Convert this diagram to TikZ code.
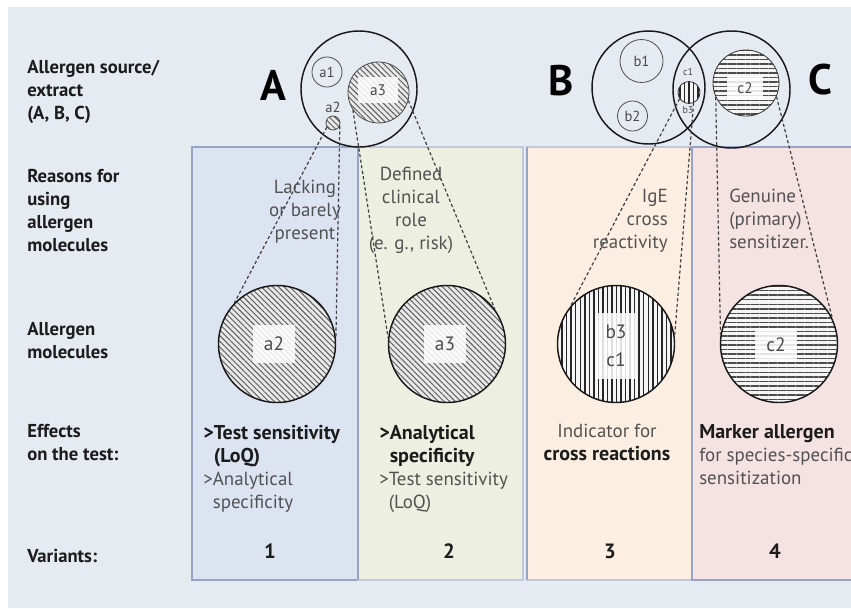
\documentclass[tikz,border=0pt]{standalone}
\usepackage{fontspec}
\setmainfont{PT Sans}
\usetikzlibrary{patterns.meta}
\definecolor{bgc}{HTML}{E6EBF1}
\definecolor{pone}{HTML}{DCE3F1}
\definecolor{ptwo}{HTML}{EDF0E1}
\definecolor{pthree}{HTML}{FCEEE1}
\definecolor{pfour}{HTML}{F5E2E2}
\definecolor{pbord}{HTML}{95A3C4}
\definecolor{txtg}{HTML}{4A4A4A}
\definecolor{txtd}{HTML}{1C1C1C}
\newcommand{\effb}[1]{{\fontsize{15}{17.25}\selectfont\bfseries\color{txtd}#1}}
\begin{document}
\begin{tikzpicture}[x=0.75pt,y=-0.75pt,
  every node/.style={inner sep=0pt},
  srcbig/.style={circle,draw=black!90,line width=1.1pt},
  subc/.style={circle,draw=black!70,line width=0.6pt,text=txtg,font=\fontsize{11}{12}\selectfont},
  hatch/.style={preaction={fill=gray!18},pattern={Lines[angle=-45,distance=3pt,line width=0.7pt]},pattern color=black!65},
  vstripe/.style={preaction={fill=white!92!gray},pattern={Lines[angle=90,distance=3.4pt,line width=1.1pt]},pattern color=black!85},
  hstripe/.style={preaction={fill=white!92!gray},pattern={Lines[angle=0,distance=3.4pt,line width=1.1pt]},pattern color=black!70},
  mol/.style={circle,draw=black!90,line width=1.1pt,minimum size=87.75pt},
  lbox/.style={fill=white,fill opacity=0.85,text opacity=1,text=txtg,font=\fontsize{11.5}{12}\selectfont},
  lboxbig/.style={fill=white,fill opacity=0.85,text opacity=1,text=txtg,font=\fontsize{14.5}{21}\selectfont,align=center},
  tinylab/.style={text=txtg,font=\fontsize{7.5}{8}\selectfont},
  dl/.style={draw=black!75,line width=0.9pt,dash pattern=on 2.4pt off 1.8pt},
  lab/.style={font=\fontsize{14}{17.25}\selectfont\bfseries,text=txtd,align=left,anchor=north west},
  rea/.style={font=\fontsize{14.2}{17.25}\selectfont,text=black!68,anchor=north},
  eff/.style={font=\fontsize{14.2}{17.25}\selectfont,text=black!68,align=left,anchor=north west},
  num/.style={font=\fontsize{15.5}{16}\selectfont\bfseries,text=txtd},
  bigl/.style={font=\fontsize{32}{32}\selectfont\bfseries,text=black}
]
\useasboundingbox (0,0) rectangle (851,608);
\fill[white] (0,0) rectangle (851,608);
\fill[bgc] (8,7) rectangle (851,608);

% panels
\filldraw[fill=pone,draw=pbord,line width=0.8pt] (192,147) rectangle (358,580);
\filldraw[fill=ptwo,draw=pbord!60,line width=0.8pt] (358,147) rectangle (523,580);
\filldraw[fill=pthree,draw=pbord!60,line width=0.8pt] (527,147) rectangle (692,580);
\filldraw[fill=pfour,draw=pbord,line width=0.8pt] (692,147) rectangle (860,580);
\draw[pbord,line width=1.2pt] (358,147) -- (358,580);
\draw[pbord,line width=1.2pt] (692,147) -- (692,580);
\draw[pbord,line width=1.2pt] (527,147) -- (527,580);

% left labels
\node[lab] (l1) at (27,60) {Allergen source/\\extract\\(A, B, C)};
\node[lab] (l2) at (27,169) {Reasons for\\using\\allergen\\molecules};
\node[lab] (l3) at (27,322) {Allergen\\molecules};
\node[lab] (l4) at (27,424) {Effects\\on the test:};
\node[lab] (l5) at (27,549) {Variants:};

% big letters
\node[bigl] (LA) at (273,85) {A};
\node[bigl] (LB) at (561,81) {B};
\node[bigl] (LC) at (820,80) {C};

% source A
\node[srcbig,minimum size=87pt] (Asrc) at (359,89) {};
\node[subc,minimum size=22.5pt] (a1) at (327,72) {a1};
\node[circle,hatch,draw=black!70,line width=0.6pt,minimum size=45.75pt] (a3s) at (378.5,92.5) {};
\node[lbox,minimum width=30pt,minimum height=19pt] (a3sl) at (378,90) {a3};
\node[tinylab,font=\fontsize{11}{12}\selectfont] (a2sl) at (333,107) {a2};
\node[circle,hatch,draw=black!70,line width=0.6pt,minimum size=10.5pt] (a2s) at (333,123) {};

% sources B and C
\node[srcbig,minimum size=84.75pt] (Bsrc) at (648.5,87.5) {};
\node[srcbig,minimum size=87.75pt] (Csrc) at (731.5,89.5) {};
\node[subc,minimum size=32.25pt] (b1) at (641.5,61) {b1};
\node[subc,minimum size=22.5pt] (b2) at (632.5,116) {b2};
\node[circle,vstripe,draw=black!80,line width=0.6pt,minimum size=16.5pt] (bcs) at (689,92.5) {};
\node[tinylab] (c1l) at (688,72) {c1};
\node[tinylab] (b3l) at (688,110) {b3};
\node[circle,hstripe,draw=black!80,line width=0.6pt,minimum size=49.5pt] (c2s) at (746,83) {};
\node[lbox,minimum width=27pt,minimum height=18pt] (c2sl) at (745,88) {c2};

% reasons
\node[rea,align=center] (r1) at (305,180) {Lacking\\or barely\\present};
\node[rea,align=center] (r2) at (411,167) {Defined\\clinical\\role\\(e. g., risk)};
\node[rea,align=right,anchor=north east] (r3) at (668,189) {IgE\\cross\\reactivity};
\node[rea,align=left,anchor=north west] (r4) at (729,189) {Genuine\\(primary)\\sensitizer.};

% molecules
\node[mol,hatch] (a2m) at (277,344) {};
\node[lboxbig,minimum width=32pt,minimum height=28pt] (a2ml) at (274,344) {a2};
\node[mol,hatch] (a3m) at (447,344) {};
\node[lboxbig,minimum width=32pt,minimum height=28pt] (a3ml) at (445,344) {a3};
\node[mol,vstripe] (bcm) at (616,344) {};
\node[lboxbig,minimum width=30pt,minimum height=50pt] (bcml) at (616,346) {b3\\c1};
\node[mol,hstripe] (c2m) at (779,344) {};
\node[lboxbig,minimum width=31.5pt,minimum height=26pt] (c2ml) at (776,345) {c2};

% connectors
\draw[dl] (a2s.214) -- (a2m.136);
\draw[dl] (a2s.-23) -- (a2m.6);
\draw[dl] (a3s.214) -- (a3m.174);
\draw[dl] (a3s.-15) -- (a3m.36);
\draw[dl] (bcs.214) -- (bcm.140);
\draw[dl] (bcs.-66) -- (bcm.8);
\draw[dl] (c2s.205) -- (c2m.171);
\draw[dl] (c2s.-24) -- (c2m.26);

% effects
\node[eff] (e1) at (203,425) {\effb{>Test sensitivity}\\\effb{\phantom{>}(LoQ)}\\>Analytical\\\phantom{>}specificity};
\node[eff] (e2) at (379,425) {\effb{>Analytical}\\\effb{\phantom{>}specificity}\\>Test sensitivity\\\phantom{>}(LoQ)};
\node[eff,align=center,anchor=north] (e3) at (607,424) {Indicator for\\\effb{cross reactions}};
\node[eff] (e4) at (699,424) {\effb{Marker allergen}\\for species-specific\\sensitization};

% variants
\node[num] (n1) at (270,551) {1};
\node[num] (n2) at (449,551) {2};
\node[num] (n3) at (610,551) {3};
\node[num] (n4) at (775,551) {4};
\end{tikzpicture}
\end{document}
